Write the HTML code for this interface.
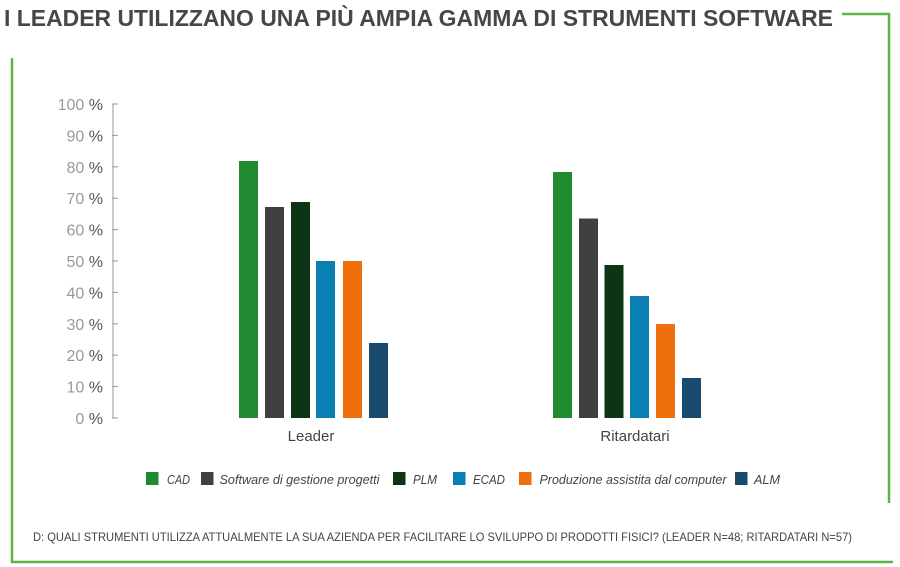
<!DOCTYPE html>
<html>
<head>
<meta charset="utf-8">
<style>
  html,body{margin:0;padding:0;background:#fff;}
  svg{display:block;}
  text{font-family:"Liberation Sans",sans-serif;}
</style>
</head>
<body>
<svg width="900" height="567" viewBox="0 0 900 567" xmlns="http://www.w3.org/2000/svg">
  <rect width="900" height="567" fill="#fff"/>
  <!-- Title -->
  <text x="4" y="26" font-size="23" font-weight="bold" fill="#474747" textLength="829" lengthAdjust="spacingAndGlyphs">I LEADER UTILIZZANO UNA PIÙ AMPIA GAMMA DI STRUMENTI SOFTWARE</text>
  <!-- Frame lines -->
  <g stroke="#5fb446" stroke-width="2.5" fill="none">
    <polyline points="842,14 889,14 889,503"/>
    <polyline points="12,58 12,562 893,562"/>
  </g>
  <!-- Y axis -->
  <g stroke="#9a9a9a" stroke-width="1">
    <line x1="113" y1="104" x2="113" y2="418"/>
    <line x1="112" y1="104" x2="118" y2="104"/>
    <line x1="112" y1="135.4" x2="118" y2="135.4"/>
    <line x1="112" y1="166.8" x2="118" y2="166.8"/>
    <line x1="112" y1="198.2" x2="118" y2="198.2"/>
    <line x1="112" y1="229.6" x2="118" y2="229.6"/>
    <line x1="112" y1="261" x2="118" y2="261"/>
    <line x1="112" y1="292.4" x2="118" y2="292.4"/>
    <line x1="112" y1="323.8" x2="118" y2="323.8"/>
    <line x1="112" y1="355.2" x2="118" y2="355.2"/>
    <line x1="112" y1="386.6" x2="118" y2="386.6"/>
    <line x1="112" y1="418" x2="118" y2="418"/>
  </g>
  <g font-size="16" text-anchor="end" fill="#9a9a9a">
    <text x="103" y="110">100<tspan fill="#555"> %</tspan></text>
    <text x="103" y="141.4">90<tspan fill="#555"> %</tspan></text>
    <text x="103" y="172.8">80<tspan fill="#555"> %</tspan></text>
    <text x="103" y="204.2">70<tspan fill="#555"> %</tspan></text>
    <text x="103" y="235.6">60<tspan fill="#555"> %</tspan></text>
    <text x="103" y="267">50<tspan fill="#555"> %</tspan></text>
    <text x="103" y="298.4">40<tspan fill="#555"> %</tspan></text>
    <text x="103" y="329.8">30<tspan fill="#555"> %</tspan></text>
    <text x="103" y="361.2">20<tspan fill="#555"> %</tspan></text>
    <text x="103" y="392.6">10<tspan fill="#555"> %</tspan></text>
    <text x="103" y="424">0<tspan fill="#555"> %</tspan></text>
  </g>
  <!-- Leader bars -->
  <rect x="239" y="161" width="19" height="257" fill="#1f8a2f"/>
  <rect x="265" y="207" width="19" height="211" fill="#404040"/>
  <rect x="291" y="202" width="19" height="216" fill="#0c3515"/>
  <rect x="316" y="261" width="19" height="157" fill="#0a7fb2"/>
  <rect x="343" y="261" width="19" height="157" fill="#ee6f0c"/>
  <rect x="369" y="343" width="19" height="75" fill="#1b4a6f"/>
  <!-- Ritardatari bars -->
  <rect x="553" y="172" width="19" height="246" fill="#1f8a2f"/>
  <rect x="579" y="218.5" width="19" height="199.5" fill="#404040"/>
  <rect x="604.5" y="265" width="19" height="153" fill="#0c3515"/>
  <rect x="630" y="296" width="19" height="122" fill="#0a7fb2"/>
  <rect x="656" y="324" width="19" height="94" fill="#ee6f0c"/>
  <rect x="682" y="378" width="19" height="40" fill="#1b4a6f"/>
  <!-- Category labels -->
  <text x="311" y="441" font-size="15" fill="#444" text-anchor="middle">Leader</text>
  <text x="635" y="441" font-size="15" fill="#444" text-anchor="middle">Ritardatari</text>
  <!-- Legend -->
  <g font-size="13" font-style="italic" fill="#444">
    <rect x="146" y="472" width="12.5" height="13" fill="#1f8a2f"/>
    <text x="167" y="484" textLength="23" lengthAdjust="spacingAndGlyphs">CAD</text>
    <rect x="201" y="472" width="12.5" height="13" fill="#404040"/>
    <text x="219.5" y="484" textLength="160" lengthAdjust="spacingAndGlyphs">Software di gestione progetti</text>
    <rect x="393" y="472" width="12.5" height="13" fill="#0c3515"/>
    <text x="413" y="484" textLength="24" lengthAdjust="spacingAndGlyphs">PLM</text>
    <rect x="453" y="472" width="12.5" height="13" fill="#0a7fb2"/>
    <text x="473" y="484" textLength="32" lengthAdjust="spacingAndGlyphs">ECAD</text>
    <rect x="519" y="472" width="12.5" height="13" fill="#ee6f0c"/>
    <text x="539.5" y="484" textLength="187" lengthAdjust="spacingAndGlyphs">Produzione assistita dal computer</text>
    <rect x="735" y="472" width="12.5" height="13" fill="#1b4a6f"/>
    <text x="754" y="484" textLength="26" lengthAdjust="spacingAndGlyphs">ALM</text>
  </g>
  <!-- Footer -->
  <text x="33" y="541" font-size="12" fill="#444" textLength="819" lengthAdjust="spacingAndGlyphs">D: QUALI STRUMENTI UTILIZZA ATTUALMENTE LA SUA AZIENDA PER FACILITARE LO SVILUPPO DI PRODOTTI FISICI? (LEADER N=48; RITARDATARI N=57)</text>
</svg>
</body>
</html>
